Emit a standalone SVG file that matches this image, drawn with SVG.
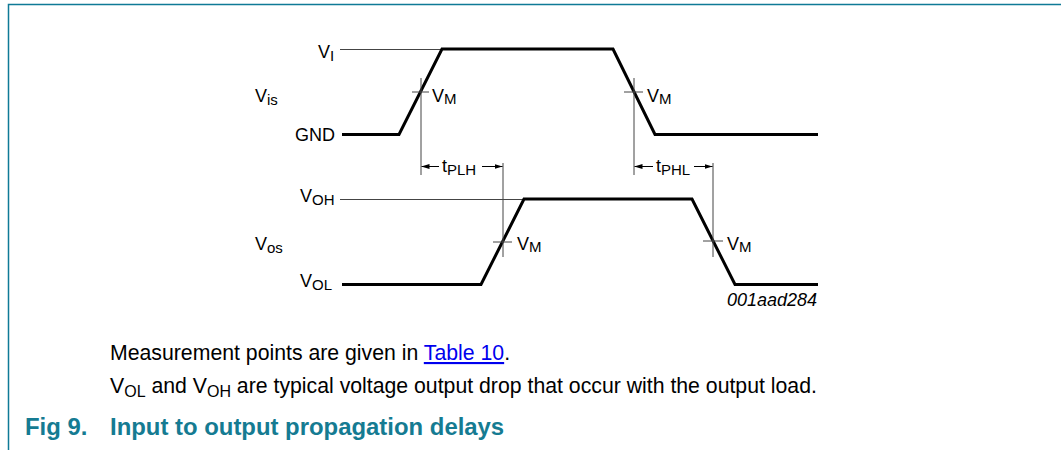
<svg xmlns="http://www.w3.org/2000/svg" width="1061" height="450" viewBox="0 0 1061 450">
<defs>
<style>
.lbl{font-family:"Liberation Sans",Arial,sans-serif;font-size:18px;fill:#000}
.sub{font-size:15px}
.body{font-family:"Liberation Sans",Arial,sans-serif;font-size:21.25px;fill:#000}
.bsub{font-size:16px}
.cap{font-family:"Liberation Sans",Arial,sans-serif;font-size:23.9px;font-weight:bold;fill:#157b92}
.wave{fill:none;stroke:#000;stroke-width:3;stroke-linejoin:miter}
.thin{fill:none;stroke:#444;stroke-width:1}
.arr{fill:none;stroke:#000;stroke-width:1}
</style>
<marker id="ah" viewBox="0 0 10 6" refX="10" refY="3" markerWidth="8" markerHeight="5" markerUnits="userSpaceOnUse" orient="auto">
<path d="M0,0 L10,3 L0,6 z" fill="#000"/>
</marker>
</defs>
<rect width="1061" height="450" fill="#fff"/>
<g id="frame">
<path d="M8.5,450 V4.5 H1061" fill="none" stroke="#0f7a96" stroke-width="1.5"/>
</g>
<g id="input-signal">
<line class="thin" x1="340" y1="49.5" x2="442" y2="49.5"/>
<polyline class="wave" points="342,134.5 399,134.5 442,49 613,49 655,134.5 818,134.5"/>
<text class="lbl" x="318" y="58" font-size="19px">V<tspan class="sub" dy="3">I</tspan></text>
<text class="lbl" x="255" y="102">V<tspan class="sub" dy="3">is</tspan></text>
<text class="lbl" x="295" y="141">GND</text>
</g>
<g id="output-signal">
<line class="thin" x1="340" y1="199.5" x2="524" y2="199.5"/>
<polyline class="wave" points="342,284.5 481,284.5 524,199 692,199 735,284.5 818,284.5"/>
<text class="lbl" x="300" y="202">V<tspan class="sub" dy="3">OH</tspan></text>
<text class="lbl" x="255" y="250">V<tspan class="sub" dy="3">os</tspan></text>
<text class="lbl" x="300" y="287">V<tspan class="sub" dy="3">OL</tspan></text>
<text class="lbl" x="817" y="306" font-style="italic" font-size="16px" text-anchor="end">001aad284</text>
</g>
<g id="connectors">
<line class="thin" x1="421" y1="78" x2="421" y2="175"/>
<line class="thin" x1="412" y1="92" x2="429" y2="92"/>
<line class="thin" x1="634" y1="78" x2="634" y2="175"/>
<line class="thin" x1="624" y1="92" x2="643" y2="92"/>
<line class="thin" x1="503" y1="163" x2="503" y2="257"/>
<line class="thin" x1="493" y1="242" x2="512" y2="242"/>
<line class="thin" x1="713" y1="163" x2="713" y2="257"/>
<line class="thin" x1="703" y1="241" x2="723" y2="241"/>
<line class="arr" x1="439" y1="166.5" x2="421.5" y2="166.5" marker-end="url(#ah)"/>
<line class="arr" x1="482" y1="166.5" x2="502.5" y2="166.5" marker-end="url(#ah)"/>
<line class="arr" x1="653" y1="166.5" x2="634.5" y2="166.5" marker-end="url(#ah)"/>
<line class="arr" x1="694" y1="166.5" x2="712.5" y2="166.5" marker-end="url(#ah)"/>
</g>
<g id="labels">
<text class="lbl" x="432" y="102">V<tspan class="sub" dy="2">M</tspan></text>
<text class="lbl" x="647" y="102">V<tspan class="sub" dy="2">M</tspan></text>
<text class="lbl" x="517" y="250">V<tspan class="sub" dy="2">M</tspan></text>
<text class="lbl" x="727" y="250">V<tspan class="sub" dy="2">M</tspan></text>
<text class="lbl" x="442" y="172">t<tspan class="sub" dy="3">PLH</tspan></text>
<text class="lbl" x="656" y="172">t<tspan class="sub" dy="3">PHL</tspan></text>
</g>
<g id="notes">
<text class="body" x="110" y="360">Measurement points are given in <tspan fill="#0000ee" text-decoration="underline">Table 10</tspan>.</text>
<text class="body" x="110" y="393">V<tspan class="bsub" dy="4">OL</tspan><tspan dy="-4"> and V</tspan><tspan class="bsub" dy="4">OH</tspan><tspan dy="-4"> are typical voltage output drop that occur with the output load.</tspan></text>
<text class="cap" x="25" y="435">Fig 9.</text>
<text class="cap" x="110" y="435">Input to output propagation delays</text>
</g>
</svg>
